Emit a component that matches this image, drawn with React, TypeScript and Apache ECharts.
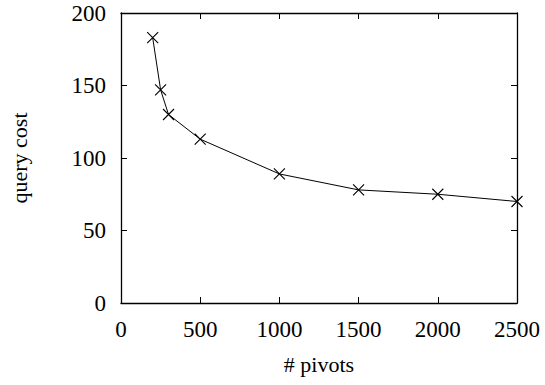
import React, { useEffect, useRef } from "react";
import * as echarts from "echarts";

const pivots = [200, 250, 300, 500, 1000, 1500, 2000, 2500];
const queryCost = [183, 147, 130, 113, 89, 78, 75, 70];
const xTicks = [0, 500, 1000, 1500, 2000, 2500];
const yTicks = [0, 50, 100, 150, 200];

export default function App() {
  const ref = useRef<HTMLDivElement>(null);
  useEffect(() => {
    if (!ref.current) return;
    const chart = echarts.init(ref.current, null, { renderer: "svg" });
    const font = "Liberation Serif";
    const axisLine = { show: true, onZero: false, lineStyle: { color: "#000", width: 1.3 } };
    const tick = { show: true, inside: true, length: 6, lineStyle: { color: "#000", width: 1 } };
    const fmt = (v: number) => String(v);
    chart.setOption({
      animation: false,
      backgroundColor: "#fff",
      grid: { left: 121, top: 13, right: 28, bottom: 82, containLabel: false, outerBoundsMode: "none" },
      xAxis: [
        {
          type: "value",
          min: xTicks[0],
          max: xTicks[xTicks.length - 1],
          interval: 500,
          name: "# pivots",
          nameLocation: "middle",
          nameGap: 50,
          nameTextStyle: { fontFamily: font, fontSize: 22, color: "#000" },
          axisLine,
          axisTick: tick,
          axisLabel: { fontFamily: font, fontSize: 23, color: "#000", margin: 15, formatter: fmt },
          splitLine: { show: false },
        },
        {
          type: "value",
          position: "top",
          min: xTicks[0],
          max: xTicks[xTicks.length - 1],
          interval: 500,
          axisLine,
          axisTick: tick,
          axisLabel: { show: false },
          splitLine: { show: false },
        },
      ],
      yAxis: [
        {
          type: "value",
          min: yTicks[0],
          max: yTicks[yTicks.length - 1],
          interval: 50,
          name: "query cost",
          nameLocation: "middle",
          nameGap: 91,
          nameRotate: 90,
          nameTextStyle: { fontFamily: font, fontSize: 22, color: "#000" },
          axisLine,
          axisTick: tick,
          axisLabel: { fontFamily: font, fontSize: 23, color: "#000", margin: 15, formatter: fmt },
          splitLine: { show: false },
        },
        {
          type: "value",
          position: "right",
          min: yTicks[0],
          max: yTicks[yTicks.length - 1],
          interval: 50,
          axisLine,
          axisTick: tick,
          axisLabel: { show: false },
          splitLine: { show: false },
        },
      ],
      series: [
        {
          type: "line",
          xAxisIndex: 0,
          yAxisIndex: 0,
          data: pivots.map((p, i) => [p, queryCost[i]]),
          symbol: "path://M0,0L10,10M10,0L0,10",
          symbolSize: 11,
          lineStyle: { color: "#000", width: 1 },
          itemStyle: { color: "none", borderColor: "#000", borderWidth: 1.1 },
          emphasis: { disabled: true },
        },
      ],
    });
    return () => chart.dispose();
  }, []);
  return <div ref={ref} style={{ width: 545, height: 385, position: "absolute", left: 0, top: 0 }} />;
}
